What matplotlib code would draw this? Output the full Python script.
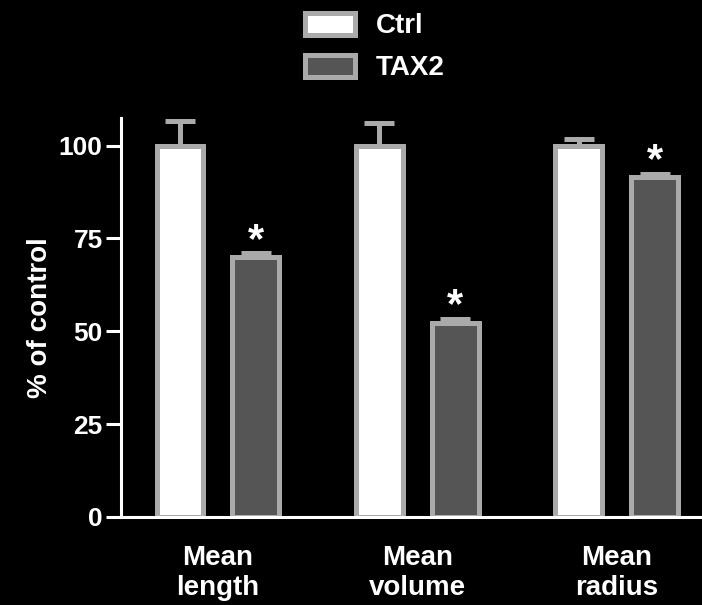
import matplotlib
matplotlib.use("Agg")
import matplotlib.pyplot as plt
import numpy as np
from matplotlib.patches import Patch

plt.rcParams['font.family'] = ['Liberation Sans', 'DejaVu Sans']
plt.rcParams['font.weight'] = 'bold'

categories = ["Mean\nlength", "Mean\nvolume", "Mean\nradius"]
ctrl = [100, 100, 100]
ctrl_err = [6.7, 6.0, 1.8]
tax2 = [70, 52.3, 91.4]
tax2_err = [1.0, 1.0, 1.0]

edge = "#aaaaaa"
fig = plt.figure(figsize=(7.02, 6.05), dpi=100, facecolor="black")
ax = fig.add_axes([0.172, 0.1455, 0.826, 0.66])
ax.set_facecolor("black")

x = np.arange(len(categories))
off, w = 0.19, 0.235
lw = 3.6

ax.errorbar(x - off, ctrl, yerr=[np.zeros(3), ctrl_err], fmt="none", ecolor=edge,
            elinewidth=lw, capsize=11, capthick=lw, zorder=1)
ax.errorbar(x + off, tax2, yerr=[np.zeros(3), tax2_err], fmt="none", ecolor=edge,
            elinewidth=lw, capsize=11, capthick=lw, zorder=1)
ax.bar(x - off, ctrl, w, color="white", edgecolor=edge, linewidth=lw, zorder=2)
ax.bar(x + off, tax2, w, color="#555555", edgecolor=edge, linewidth=lw, zorder=2)

for xi, v, e in zip(x + off, tax2, tax2_err):
    ax.text(xi, v + e - 2.0, "*", color="white", ha="center", va="bottom",
            fontsize=30, fontweight="bold")

ax.set_xlim(-0.487, 2.42)
ax.set_ylim(0, 107.5)
ax.set_yticks([0, 25, 50, 75, 100])
ax.set_xticks(x)
ax.set_xticklabels(categories, fontsize=20, color="white", linespacing=1.2)
ax.tick_params(axis="x", length=0, pad=20)
ax.tick_params(axis="y", colors="white", labelsize=19, width=2.2, length=11, pad=2)
for t in ax.get_yticklabels():
    t.set_fontweight("bold")
ax.set_ylabel("% of control", color="white", fontsize=20, fontweight="bold", labelpad=4)

for s in ["top", "right"]:
    ax.spines[s].set_visible(False)
for s in ["left", "bottom"]:
    ax.spines[s].set_color("white")
    ax.spines[s].set_linewidth(2.2)

handles = [Patch(facecolor="white", edgecolor=edge, linewidth=lw, label="Ctrl"),
           Patch(facecolor="#555555", edgecolor=edge, linewidth=lw, label="TAX2")]
leg = fig.legend(handles=handles, loc="upper left", bbox_to_anchor=(0.403, 1.016),
                 frameon=False, fontsize=20, handlelength=1.8, handleheight=0.85,
                 labelspacing=0.55, handletextpad=0.75, borderpad=0.3)
for t in leg.get_texts():
    t.set_color("white")
    t.set_fontweight("bold")

fig.savefig("out.png", dpi=100, facecolor="black")
